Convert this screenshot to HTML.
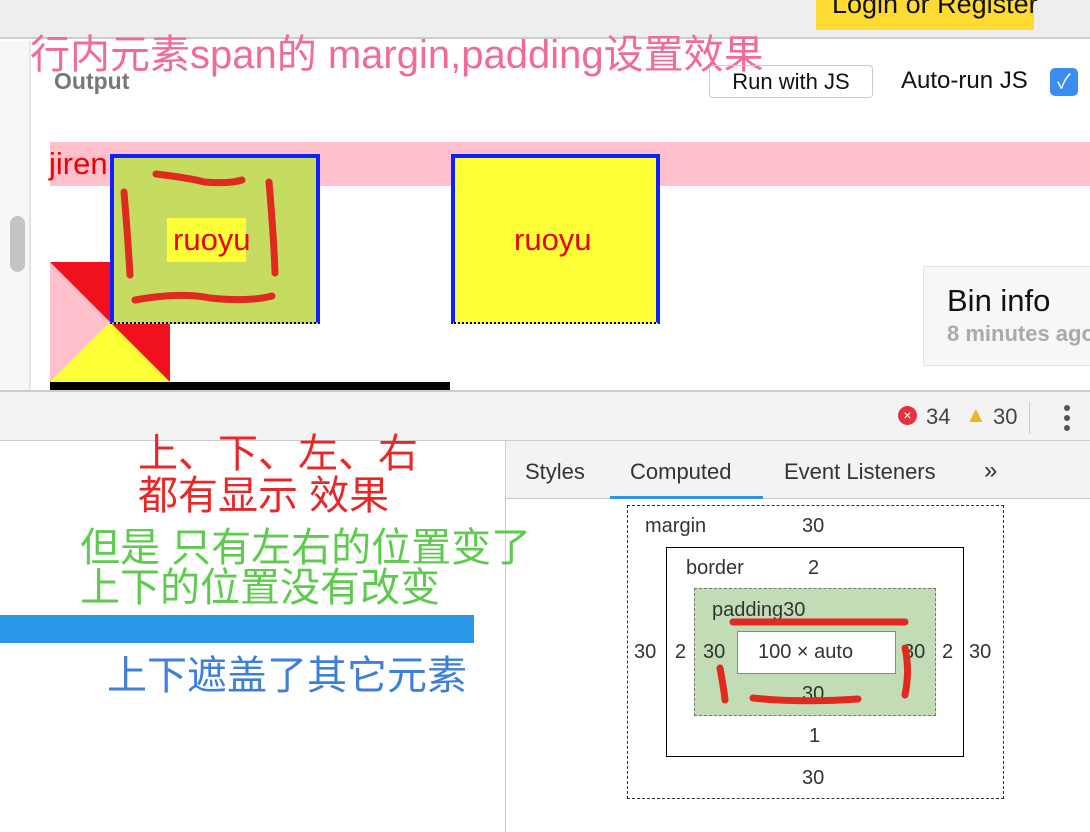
<!DOCTYPE html>
<html><head><meta charset="utf-8"><style>
*{margin:0;padding:0;box-sizing:border-box}
body{width:1090px;height:832px;position:relative;overflow:hidden;background:#fff;font-family:"Liberation Sans","Noto Sans CJK SC",sans-serif}
.a{position:absolute;white-space:nowrap}
</style></head><body>
<div class="a" style="left:0;top:0;width:1090px;height:39px;background:#eee;border-bottom:2px solid #ccc"></div>
<div class="a" style="left:816px;top:0;width:218px;height:30px;background:#fddb33"></div>
<div class="a" style="left:832px;top:-11px;font-size:27px;color:#111">Login or Register</div>
<div class="a" style="left:0;top:41px;width:31px;height:350px;background:#f7f7f7;border-right:2px solid #e6e6e6"></div>
<div class="a" style="left:10px;top:216px;width:15px;height:56px;background:#c4c4c4;border-radius:8px"></div>
<div class="a" style="left:54px;top:68px;font-size:23px;font-weight:bold;color:#777">Output</div>
<div class="a" style="left:30px;top:22px;font-size:40px;color:#f06a9a">行内元素span的 margin,padding设置效果</div>
<div class="a" style="left:709px;top:65px;width:164px;height:33px;border:1px solid #ccc;border-radius:4px;font-size:22px;text-align:center;line-height:31px;color:#111">Run with JS</div>
<div class="a" style="left:901px;top:67px;font-size:24px;color:#111">Auto-run JS</div>
<div class="a" style="left:1050px;top:68px;width:28px;height:28px;background:#3b8cf0;border-radius:5px;color:#fff;font-size:20px;text-align:center;line-height:28px">✓</div>
<div class="a" style="left:50px;top:142px;width:1040px;height:44px;background:#ffc0cb"></div>
<div class="a" style="left:49px;top:146px;font-size:31px;color:#e00">jiren</div>
<div class="a" style="left:50px;top:262px;width:0;height:0;border-style:solid;border-width:60px;border-color:#f0101e #f0101e #ffff38 #ffc0cb"></div>
<div class="a" style="left:50px;top:382px;width:400px;height:8px;background:#000"></div>
<div class="a" style="left:110px;top:154px;width:210px;height:170px;background:#c5dc60;border:4px solid #1020ff;border-bottom:2px dotted #000"></div>
<div class="a" style="left:167px;top:218px;width:79px;height:44px;background:#ffff38"></div>
<div class="a" style="left:173px;top:222px;font-size:31px;color:#e00">ruoyu</div>
<div class="a" style="left:451px;top:154px;width:209px;height:170px;background:#ffff38;border:4px solid #1020ff;border-bottom:2px dotted #000"></div>
<div class="a" style="left:514px;top:222px;font-size:31px;color:#e00">ruoyu</div>
<div class="a" style="left:923px;top:266px;width:170px;height:100px;background:#f7f7f7;border:1px solid #e3e3e3"></div>
<div class="a" style="left:947px;top:283px;font-size:31px;color:#111">Bin info</div>
<div class="a" style="left:947px;top:321px;font-size:22px;font-weight:bold;color:#aaa">8 minutes ago</div>
<div class="a" style="left:0;top:390px;width:1090px;height:51px;background:#f3f3f3;border-top:2px solid #ccc;border-bottom:1px solid #ccc"></div>
<div class="a" style="left:898px;top:406px;width:19px;height:19px;border-radius:50%;background:#e0353c;color:#fff;font-size:14px;text-align:center;line-height:19px">×</div>
<div class="a" style="left:926px;top:404px;font-size:22px;color:#444">34</div>
<div class="a" style="left:965px;top:402px;font-size:22px;color:#f0b520">▲</div>
<div class="a" style="left:993px;top:404px;font-size:22px;color:#444">30</div>
<div class="a" style="left:1029px;top:402px;width:1px;height:32px;background:#ccc"></div>
<div class="a" style="left:1064px;top:405px;width:6px;height:6px;border-radius:3px;background:#555;box-shadow:0 10px 0 #555,0 20px 0 #555"></div>
<div class="a" style="left:505px;top:441px;width:1px;height:391px;background:#ccc"></div>
<div class="a" style="left:506px;top:441px;width:584px;height:58px;background:#f3f3f3;border-bottom:1px solid #ccc"></div>
<div class="a" style="left:525px;top:459px;font-size:22px;color:#333">Styles</div>
<div class="a" style="left:630px;top:459px;font-size:22px;color:#333">Computed</div>
<div class="a" style="left:610px;top:496px;width:153px;height:3px;background:#2a96e8"></div>
<div class="a" style="left:784px;top:459px;font-size:22px;color:#333">Event Listeners</div>
<div class="a" style="left:984px;top:457px;font-size:24px;color:#333">»</div>
<div class="a" style="left:627px;top:505px;width:377px;height:294px;border:1.5px dashed #333"></div>
<div class="a" style="left:666px;top:547px;width:298px;height:210px;border:1.5px solid #000"></div>
<div class="a" style="left:694px;top:588px;width:242px;height:128px;background:#c2ddb6;border:1.5px dashed #777"></div>
<div class="a" style="left:737px;top:631px;width:159px;height:43px;background:#fff;border:1px solid #888"></div>
<div class="a" style="left:645px;top:515px;font-size:20px;color:#333">margin</div>
<div class="a" style="left:802px;top:515px;font-size:20px;color:#333">30</div>
<div class="a" style="left:686px;top:557px;font-size:20px;color:#333">border</div>
<div class="a" style="left:808px;top:557px;font-size:20px;color:#333">2</div>
<div class="a" style="left:712px;top:599px;font-size:20px;color:#333">padding30</div>
<div class="a" style="left:758px;top:641px;font-size:20px;color:#333">100 × auto</div>
<div class="a" style="left:634px;top:641px;font-size:20px;color:#333">30</div>
<div class="a" style="left:675px;top:641px;font-size:20px;color:#333">2</div>
<div class="a" style="left:703px;top:641px;font-size:20px;color:#333">30</div>
<div class="a" style="left:903px;top:641px;font-size:20px;color:#333">30</div>
<div class="a" style="left:942px;top:641px;font-size:20px;color:#333">2</div>
<div class="a" style="left:969px;top:641px;font-size:20px;color:#333">30</div>
<div class="a" style="left:802px;top:683px;font-size:20px;color:#333">30</div>
<div class="a" style="left:809px;top:725px;font-size:20px;color:#333">1</div>
<div class="a" style="left:802px;top:767px;font-size:20px;color:#333">30</div>
<div class="a" style="left:138px;top:432px;font-size:40px;line-height:44px;color:#e82828">上、下、左、右</div>
<div class="a" style="left:138px;top:474px;font-size:40px;line-height:44px;color:#e82828">都有显示 效果</div>
<div class="a" style="left:80px;top:526px;font-size:40px;line-height:44px;color:#5ecb4f">但是 只有左右的位置变了</div>
<div class="a" style="left:80px;top:566px;font-size:40px;line-height:44px;color:#5ecb4f">上下的位置没有改变</div>
<div class="a" style="left:0;top:615px;width:474px;height:28px;background:#2a96e8"></div>
<div class="a" style="left:107px;top:654px;font-size:40px;line-height:44px;color:#3d7fd9">上下遮盖了其它元素</div>
<svg class="a" style="left:0;top:0" width="1090" height="832"><g fill="none" stroke="#e02a20" stroke-width="7" stroke-linecap="round">
<path d="M156 174 Q190 178 204 182 Q230 184 242 180"/><path d="M124 192 Q128 240 130 275"/><path d="M269 182 Q274 240 275 273"/><path d="M135 300 Q180 292 210 298 Q250 302 272 296"/>
<path d="M733 622 L905 622"/><path d="M753 698 Q800 703 858 699"/><path d="M720 668 Q724 690 725 700"/><path d="M905 648 Q910 670 905 695"/>
</g></svg>
</body></html>
